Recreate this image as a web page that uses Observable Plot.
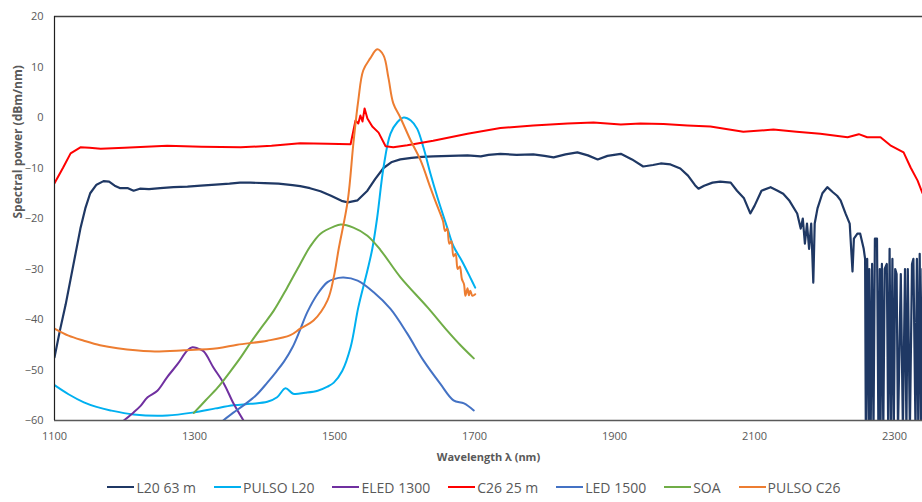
<!DOCTYPE html>
<html>
<head>
<meta charset="utf-8">
<script src="https://cdn.jsdelivr.net/npm/d3@7"></script>
<script src="https://cdn.jsdelivr.net/npm/@observablehq/plot@0.6"></script>
<style>
  html, body { margin: 0; padding: 0; background: #fff; }
  body { width: 922px; height: 502px; overflow: hidden; font-family: "Open Sans", "Liberation Sans", sans-serif; }
  #legend { display: flex; justify-content: center; align-items: center; height: 30px; padding-left: 26px; color: #595959; font-size: 14px; }
  .item { display: flex; align-items: center; margin: 0 9px; }
  .swatch { width: 27px; height: 2.5px; margin-right: 2px; }
</style>
</head>
<body>
<div id="chart"></div>
<div id="legend"></div>
<script>
// ---- data: [wavelength nm, spectral power dBm/nm] ----
const l20_63m = [
  [1100,-47.5],[1108,-42],[1116,-37],[1123,-32],[1130,-27],[1137,-22],[1144,-18],[1151,-15],[1160,-13.3],[1170,-12.6],[1178,-12.7],[1186,-13.5],[1194,-14],[1205,-14],[1213,-14.5],[1222,-14.1],[1235,-14.2],[1251,-14],[1270,-13.8],[1290,-13.7],[1309,-13.5],[1330,-13.3],[1350,-13.1],[1365,-12.9],[1380,-12.9],[1400,-13.0],[1420,-13.1],[1440,-13.4],[1451,-13.6],[1465,-14.0],[1480,-14.6],[1495,-15.5],[1510,-16.5],[1519,-16.8],[1533,-16.4],[1547,-14.5],[1558,-12.2],[1570,-10],[1582,-8.8],[1594,-8.3],[1610,-8.0],[1625,-7.8],[1641,-7.7],[1665,-7.6],[1690,-7.5],[1709,-7.7],[1720,-7.4],[1737,-7.2],[1760,-7.4],[1784,-7.3],[1800,-7.6],[1813,-7.9],[1830,-7.3],[1847,-6.9],[1862,-7.5],[1876,-8.3],[1890,-7.6],[1909,-7.2],[1925,-8.3],[1941,-9.7],[1955,-9.4],[1966,-9.1],[1980,-9.3],[1994,-10.1],[2005,-11.5],[2015,-13.4],[2020,-14.1],[2028,-13.5],[2040,-12.9],[2051,-12.7],[2066,-12.9],[2075,-14.5],[2085,-16],[2094,-19.0],[2100,-17.5],[2110,-14.5],[2123,-13.8],[2133,-14.5],[2141,-15.1],[2150,-16.5],[2161,-19.0],[2166,-22],[2169,-20],[2172,-25],[2175,-21],[2178,-26],[2181,-21],[2184,-32.7],[2186,-21],[2190,-18],[2197,-15],[2204,-13.8],[2212,-14.8],[2218,-15.5],[2223,-16.4],[2230,-19],[2236,-21],[2240,-30.5],[2242,-24],[2247,-23],[2251,-23],[2256,-26],[2258,-28],
  [2259,-62],[2261,-28],[2263,-62],[2264,-30],[2266,-62],[2268,-29],[2270,-62],[2272,-24],[2275,-24],[2277,-62],[2279,-30],[2280,-62],[2282,-29],[2284,-62],[2286,-30],[2289,-29],[2291,-62],[2293,-26],[2295,-62],[2297,-28],[2299,-62],[2301,-30],[2303,-31],[2305,-62],[2309,-31],[2312,-62],[2315,-30],[2317,-62],[2319,-30],[2322,-62],[2325,-29],[2327,-28],[2330,-62],[2332,-28],[2334,-62],[2336,-27],[2338,-62],[2340,-30]
];
const pulsoL20 = [
  [1100,-53],[1120,-54.8],[1142,-56.4],[1160,-57.3],[1180,-58],[1213,-58.8],[1261,-59],[1299,-58.4],[1330,-57.6],[1356,-57],[1380,-56.7],[1404,-56.3],[1418,-55.4],[1430,-53.6],[1441,-54.7],[1458,-54.5],[1476,-54.1],[1490,-53.3],[1499,-52.5],[1511,-50.2],[1523,-45.5],[1534,-37.6],[1547,-30.3],[1554,-26],[1561,-19.8],[1570,-9.9],[1580,-3.2],[1590,-0.9],[1599,0],[1609,-0.6],[1618,-2.2],[1627,-5.9],[1637,-11.1],[1647,-15.8],[1661,-21.8],[1670,-25.5],[1682,-28.4],[1694,-31.7],[1701,-33.7]
];
const eled1300 = [
  [1199,-60],[1213,-58.4],[1223,-57.1],[1233,-55.4],[1247,-54.1],[1261,-51.4],[1276,-48.8],[1290,-46.1],[1297,-45.5],[1304,-45.7],[1313,-46.3],[1327,-49.5],[1342,-52.7],[1356,-56.7],[1370,-60]
];
const c26_25m = [
  [1100,-13],[1112,-10],[1123,-7.1],[1137,-5.9],[1150,-6.0],[1166,-6.2],[1200,-6.0],[1261,-5.6],[1310,-5.8],[1366,-5.9],[1410,-5.6],[1451,-5.1],[1490,-5.2],[1523,-5.3],[1530,-0.6],[1534,-1.2],[1537,0.4],[1540,-0.8],[1543,1.8],[1547,-0.2],[1554,-1.8],[1563,-3.0],[1573,-5.7],[1584,-5.9],[1604,-5.5],[1641,-4.6],[1690,-3.2],[1737,-2.1],[1784,-1.6],[1833,-1.2],[1870,-1.0],[1909,-1.4],[1937,-1.2],[1970,-1.3],[2004,-1.6],[2037,-1.8],[2084,-2.8],[2127,-2.4],[2160,-2.8],[2194,-3.2],[2233,-3.9],[2249,-3.3],[2261,-3.9],[2280,-3.9],[2294,-5.5],[2313,-6.9],[2323,-9.9],[2333,-12.5],[2340,-15]
];
const led1500 = [
  [1341,-60],[1355,-58.5],[1370,-57],[1388,-55],[1404,-52.5],[1417,-50.3],[1428,-48.3],[1440,-45.5],[1451,-42],[1461,-38.6],[1476,-34.9],[1490,-32.6],[1499,-32],[1513,-31.7],[1533,-32.3],[1556,-34.6],[1580,-37.9],[1604,-42.8],[1627,-48.1],[1651,-52.7],[1670,-56],[1685,-56.6],[1699,-58]
];
const soa = [
  [1299,-58.5],[1316,-56],[1333,-53.5],[1350,-50.5],[1366,-47.5],[1380,-44.6],[1396,-41.5],[1413,-38.3],[1432,-33.8],[1451,-29],[1465,-25.6],[1480,-23],[1499,-21.6],[1509,-21.2],[1527,-21.8],[1547,-23.4],[1566,-26.3],[1594,-31.6],[1633,-37.6],[1661,-42.2],[1680,-45.1],[1699,-47.7]
];
const pulsoC26 = [
  [1100,-41.8],[1120,-43.2],[1142,-44.2],[1165,-45.1],[1190,-45.7],[1237,-46.3],[1285,-46.1],[1333,-45.7],[1361,-45],[1404,-44.2],[1437,-43.1],[1451,-41.8],[1470,-40.2],[1490,-36.2],[1499,-31.6],[1506,-26],[1519,-16.4],[1527,-5.1],[1534,3.4],[1541,9.3],[1551,11.7],[1561,13.5],[1570,12.3],[1577,7.9],[1584,2.8],[1594,0],[1609,-4.6],[1623,-8.5],[1637,-13.9],[1644,-16.5],[1651,-19],[1655,-20.5],[1658,-22.5],[1661,-22],[1664,-25],[1667,-24.5],[1670,-27.5],[1673,-27],[1676,-30],[1679,-29.5],[1682,-32],[1685,-33],[1687,-35.3],[1690,-33.8],[1692,-35.2],[1694,-34.3],[1697,-35.3],[1701,-35]
];
const xTicks = [1100, 1300, 1500, 1700, 1900, 2100, 2300];
const yTicks = [20, 10, 0, -10, -20, -30, -40, -50, -60];

const series = [
  {name: "L20 63 m", color: "#1F3864", data: l20_63m, curve: "linear", w: 2.2},
  {name: "PULSO L20", color: "#00B0F0", data: pulsoL20, curve: "catmull-rom", w: 2},
  {name: "ELED 1300", color: "#7030A0", data: eled1300, curve: "catmull-rom", w: 2},
  {name: "C26 25 m", color: "#FF0000", data: c26_25m, curve: "linear", w: 2},
  {name: "LED 1500", color: "#4472C4", data: led1500, curve: "catmull-rom", w: 2},
  {name: "SOA", color: "#70AD47", data: soa, curve: "catmull-rom", w: 2},
  {name: "PULSO C26", color: "#ED7D31", data: pulsoC26, curve: "catmull-rom", w: 2}
];

const chart = Plot.plot({
  width: 922,
  height: 472,
  marginLeft: 54,
  marginRight: 0,
  marginTop: 16,
  marginBottom: 52,
  style: {fontFamily: "'Open Sans', 'Liberation Sans', sans-serif", fontSize: "11px", color: "#595959", background: "#fff"},
  x: {domain: [1100, 2340], ticks: xTicks, tickFormat: d => String(d), tickSize: 0, tickPadding: 12, label: null},
  y: {domain: [-60, 20], ticks: yTicks, tickSize: 0, tickPadding: 11, label: null},
  marks: [
    ...series.map(s => Plot.line(s.data, {x: d => d[0], y: d => d[1], stroke: s.color, strokeWidth: s.w, curve: s.curve, clip: true})),
    Plot.ruleY([20], {stroke: "#404040", strokeWidth: 1.5}),
    Plot.ruleY([-60], {stroke: "#595959", strokeWidth: 1.5}),
    Plot.ruleX([1100], {stroke: "#202020", strokeWidth: 1.2}),
    Plot.axisX({ticks: xTicks, tickFormat: d => String(d), tickSize: 0, tickPadding: 12, label: null, fill: "#595959", fontSize: 11}),
    Plot.axisY({ticks: yTicks, tickSize: 0, tickPadding: 11, label: null, fill: "#595959", fontSize: 11}),
    Plot.text(["Wavelength λ (nm)"], {frameAnchor: "bottom", dy: 40, fontWeight: "bold", fontSize: 11, fill: "#595959"}),
    Plot.text(["Spectral power (dBm/nm)"], {frameAnchor: "left", dx: -36, rotate: -90, fontWeight: "bold", fontSize: 12, fill: "#595959"})
  ]
});
document.getElementById("chart").appendChild(chart);

const legend = document.getElementById("legend");
for (const s of series) {
  const item = document.createElement("div");
  item.className = "item";
  const sw = document.createElement("span");
  sw.className = "swatch";
  sw.style.background = s.color;
  const t = document.createElement("span");
  t.textContent = s.name;
  item.appendChild(sw);
  item.appendChild(t);
  legend.appendChild(item);
}
</script>
</body>
</html>
